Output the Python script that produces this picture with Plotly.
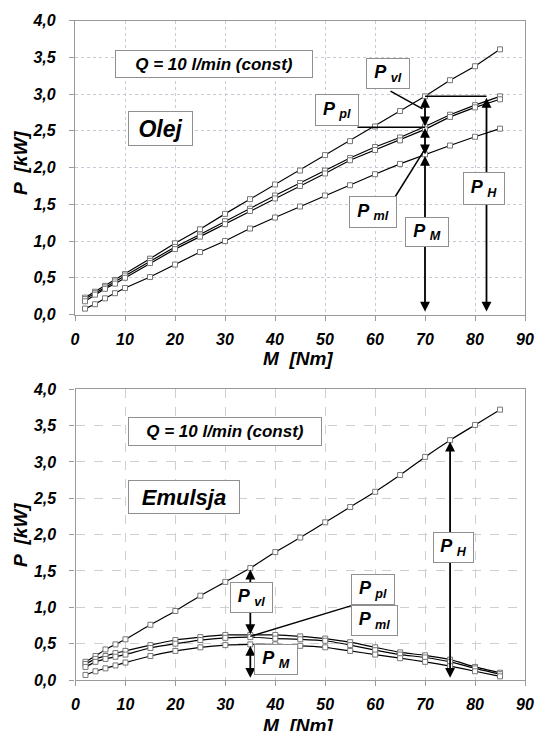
import plotly.graph_objects as go

# ---------------- data ----------------
M = [2, 4, 6, 8, 10, 15, 20, 25, 30, 35, 40, 45, 50, 55, 60, 65, 70, 75, 80, 85]

# Olej (top chart)
olej_PH = [0.23, 0.31, 0.39, 0.47, 0.55, 0.76, 0.97, 1.16, 1.37, 1.57, 1.77, 1.96, 2.17, 2.36, 2.56, 2.77, 2.97, 3.19, 3.38, 3.61]
olej_Ppl = [0.21, 0.29, 0.37, 0.45, 0.53, 0.73, 0.92, 1.09, 1.27, 1.44, 1.62, 1.79, 1.96, 2.13, 2.28, 2.41, 2.56, 2.72, 2.85, 2.97]
olej_Pml = [0.18, 0.27, 0.35, 0.42, 0.50, 0.70, 0.89, 1.06, 1.23, 1.41, 1.58, 1.75, 1.92, 2.10, 2.24, 2.37, 2.52, 2.69, 2.82, 2.93]
olej_PM = [0.08, 0.14, 0.22, 0.29, 0.36, 0.51, 0.68, 0.85, 1.00, 1.17, 1.32, 1.47, 1.62, 1.76, 1.91, 2.05, 2.18, 2.30, 2.42, 2.53]

# Emulsja (bottom chart)
emu_PH = [0.25, 0.33, 0.42, 0.49, 0.56, 0.76, 0.95, 1.16, 1.35, 1.54, 1.76, 1.96, 2.17, 2.38, 2.59, 2.82, 3.07, 3.30, 3.51, 3.72]
emu_Ppl = [0.22, 0.29, 0.33, 0.37, 0.40, 0.48, 0.55, 0.59, 0.62, 0.62, 0.62, 0.60, 0.57, 0.52, 0.45, 0.38, 0.34, 0.28, 0.18, 0.10]
emu_Pml = [0.18, 0.25, 0.29, 0.32, 0.35, 0.44, 0.50, 0.55, 0.58, 0.59, 0.57, 0.56, 0.54, 0.48, 0.41, 0.35, 0.31, 0.25, 0.16, 0.08]
emu_PM = [0.07, 0.12, 0.16, 0.20, 0.24, 0.33, 0.40, 0.45, 0.48, 0.49, 0.49, 0.47, 0.45, 0.40, 0.35, 0.30, 0.25, 0.19, 0.12, 0.05]

x_ticks = [0, 10, 20, 30, 40, 50, 60, 70, 80, 90]
y_ticks = [0.0, 0.5, 1.0, 1.5, 2.0, 2.5, 3.0, 3.5, 4.0]

Q_LABEL = "Q = 10 l/min (const)"

# ---------------- figure ----------------
W, H = 536, 731
FONT = "Liberation Sans"

fig = go.Figure()

marker_b = dict(symbol="square", size=5, color="white", line=dict(width=1, color="#777777"))

for ys in (olej_PH, olej_Ppl, olej_Pml, olej_PM):
    fig.add_trace(go.Scatter(x=M, y=ys, mode="lines+markers", xaxis="x", yaxis="y",
                             line=dict(color="black", width=1.2), marker=marker_b,
                             showlegend=False, hoverinfo="skip"))
for ys in (emu_PH, emu_Ppl, emu_Pml, emu_PM):
    fig.add_trace(go.Scatter(x=M, y=ys, mode="lines+markers", xaxis="x2", yaxis="y2",
                             line=dict(color="black", width=1.2, shape="spline", smoothing=0.6),
                             marker=marker_b, showlegend=False, hoverinfo="skip"))

def px_x(px):
    return px / W

def px_y(py):
    return (H - py) / H

tickfont = dict(family=FONT, size=16, color="black", weight="bold", style="italic")

xcommon = dict(range=[0, 90], tickvals=x_ticks, ticktext=[str(v) for v in x_ticks],
               showline=True, linecolor="#9a9a9a", linewidth=1.2, mirror=True,
               ticks="outside", ticklen=5, tickcolor="#9a9a9a", tickfont=tickfont,
               zeroline=False, ticklabelstandoff=5, fixedrange=True, automargin=False)
ycommon = dict(range=[0, 4], tickvals=y_ticks, ticktext=[f"{v:.1f}".replace(".", ",") for v in y_ticks],
               showline=True, linecolor="#9a9a9a", linewidth=1.2, mirror=True,
               ticks="outside", ticklen=5, tickcolor="#9a9a9a", tickfont=tickfont,
               zeroline=False, ticklabelstandoff=10, fixedrange=True, automargin=False)

fig.update_layout(
    width=W, height=H,
    margin=dict(l=0, r=0, t=0, b=0, autoexpand=False),
    paper_bgcolor="white", plot_bgcolor="white",
    font=dict(family=FONT, color="black"),
    xaxis=dict(domain=[px_x(75), px_x(525)], anchor="y",
               showgrid=True, gridcolor="#c9c9d6", griddash="dot", gridwidth=1, **xcommon),
    yaxis=dict(domain=[px_y(314.5), px_y(20.7)], anchor="x",
               showgrid=True, gridcolor="#c9c9d6", griddash="dot", gridwidth=1, **ycommon),
    xaxis2=dict(domain=[px_x(75.5), px_x(525)], anchor="y2",
                showgrid=True, gridcolor="#cfcfcf", griddash="dash", gridwidth=1, **xcommon),
    yaxis2=dict(domain=[px_y(680), px_y(389.3)], anchor="x2",
                showgrid=True, gridcolor="#cfcfcf", griddash="dash", gridwidth=1, **ycommon),
)

ann = []

def arrow(xr, yr, x0, y0, x1, y1, both=True):
    ann.append(dict(xref=xr, yref=yr, axref=xr, ayref=yr, x=x1, y=y1, ax=x0, ay=y0,
                    text="", showarrow=True, arrowhead=2, arrowsize=1.1, arrowwidth=1.8,
                    arrowcolor="black", arrowside="end+start" if both else "end",
                    standoff=0, startstandoff=0))

def line(xr, yr, x0, y0, x1, y1, w=1.5):
    fig.add_shape(type="line", xref=xr, yref=yr, x0=x0, y0=y0, x1=x1, y1=y1,
                  line=dict(color="black", width=w), layer="above")

def box(xr, yr, x, y, text, w, h, size=18):
    ann.append(dict(xref=xr, yref=yr, x=x, y=y, text=text, showarrow=False,
                    width=w, height=h, align="center", valign="middle",
                    bgcolor="white", bordercolor="#8f8f8f", borderwidth=1, borderpad=0,
                    font=dict(family=FONT, size=size, color="black", weight="bold", style="italic")))

def plabel(sub):
    return f"P <sub>{sub}</sub>"

# ---- top chart (Olej) lines & arrows ----
line("x", "y", 70, 2.97, 82.3, 2.97)
line("x", "y", 63.1, 3.04, 69.5, 2.80)
line("x", "y", 56.5, 2.55, 70, 2.55)
line("x", "y", 64.0, 1.60, 69.8, 2.23)
arrow("x", "y", 70, 2.97, 70, 2.56)
arrow("x", "y", 70, 2.56, 70, 2.18)
arrow("x", "y", 70, 2.18, 70, 0.04)
arrow("x", "y", 82.3, 2.97, 82.3, 0.04)

# ---- bottom chart (Emulsja) lines & arrows ----
line("x2", "y2", 55.6, 1.03, 35.0, 0.60)
arrow("x2", "y2", 35, 1.54, 35, 0.63)
arrow("x2", "y2", 35, 0.49, 35, 0.03)
arrow("x2", "y2", 75, 3.30, 75, 0.03)

# ---- boxes top ----
box("x", "y", 27.8, 3.41, Q_LABEL, 196, 26, size=17)
box("x", "y", 17.1, 2.53, "Olej", 63, 33, size=23)
box("x", "y", 62.6, 3.28, plabel("vl"), 42, 29)
box("x", "y", 52.3, 2.79, plabel("pl"), 42, 30)
box("x", "y", 59.6, 1.40, plabel("ml"), 46, 30)
box("x", "y", 70.3, 1.13, plabel("M"), 42, 28)
box("x", "y", 81.7, 1.71, plabel("H"), 40, 31)

# ---- boxes bottom ----
box("x2", "y2", 30.0, 3.42, Q_LABEL, 192, 27, size=17)
box("x2", "y2", 21.8, 2.52, "Emulsja", 110, 32, size=22)
box("x2", "y2", 35.3, 1.13, plabel("vl"), 41, 29)
box("x2", "y2", 40.2, 0.28, plabel("M"), 42, 29)
box("x2", "y2", 59.5, 1.25, plabel("pl"), 42, 29)
box("x2", "y2", 59.9, 0.82, plabel("ml"), 45, 29)
box("x2", "y2", 75.7, 1.82, plabel("H"), 39, 29)

# ---- axis titles ----
title_font = dict(family=FONT, size=19, color="black", weight="bold", style="italic")
for ytitle_px, xtitle_px in ((163, 358), (535, 725)):
    ann.append(dict(xref="paper", yref="paper", x=px_x(20), y=px_y(ytitle_px),
                    text="P  [kW]", textangle=-90, showarrow=False,
                    xanchor="center", yanchor="middle", font=title_font))
    ann.append(dict(xref="paper", yref="paper", x=px_x(298), y=px_y(xtitle_px),
                    text="M  [Nm]", showarrow=False,
                    xanchor="center", yanchor="middle", font=title_font))

fig.update_layout(annotations=ann)

post = ("document.documentElement.style.margin='0';document.body.style.margin='0';"
        "document.body.style.padding='0';document.body.style.overflow='hidden';"
        "document.documentElement.style.overflow='hidden';")
fig.write_html("out.html", post_script=post, config={"displayModeBar": False})
